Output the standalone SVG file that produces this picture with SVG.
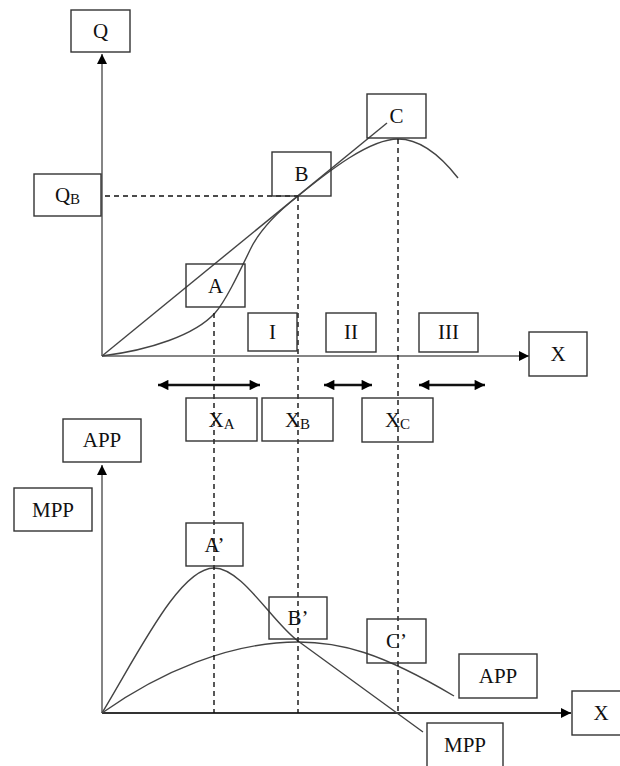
<svg xmlns="http://www.w3.org/2000/svg" width="620" height="766" viewBox="0 0 620 766">
<defs>
<style>
.box{fill:none;stroke:#333;stroke-width:1.4}
.lbl{font-family:"Liberation Serif","Times New Roman",serif;font-size:21px;fill:#111;text-anchor:middle}
.sub{font-size:15px}
.axis{fill:none;stroke:#858585;stroke-width:2}
.axisd{fill:none;stroke:#333;stroke-width:2}
.curve{fill:none;stroke:#444;stroke-width:1.4}
.dash{fill:none;stroke:#111;stroke-width:1.4;stroke-dasharray:5 4}
.range{fill:none;stroke:#111;stroke-width:2.6}
</style>
<marker id="ah" viewBox="0 0 10 10" refX="10" refY="5" markerWidth="5" markerHeight="5" orient="auto" markerUnits="strokeWidth">
<path d="M0,0 L10,5 L0,10 Z" fill="#000"/>
</marker>
<marker id="ah2" viewBox="0 0 10 10" refX="10" refY="5" markerWidth="4.8" markerHeight="4" orient="auto-start-reverse" markerUnits="strokeWidth">
<path d="M0,0 L10,5 L0,10 Z" fill="#000"/>
</marker>
</defs>
<rect width="620" height="766" fill="#fff"/>

<g id="connectors">
<!-- upper axes -->
<path class="axis" d="M102,356 V54" marker-end="url(#ah)"/>
<path class="axis" d="M102,356 H529" marker-end="url(#ah)"/>
<!-- lower axes -->
<path class="axis" d="M102,713 V465" marker-end="url(#ah)"/>
<path class="axisd" d="M102,713 H571" marker-end="url(#ah)"/>
<!-- tangent ray -->
<path class="curve" d="M102,356 L387,123"/>
<!-- total product curve -->
<path class="curve" d="M102,356 C150,350 195,335 215,313 C225,302 238,275 250,250 C258,233 275,214 298,196 C330,170 370,139 398,139 C420,139 440,155 458,178"/>
<!-- APP curve -->
<path class="curve" d="M102,713 C160,672 230,642 298,642 C340,642 380,652 454,696"/>
<!-- MPP curve -->
<path class="curve" d="M102,713 C140,650 180,568 214,568 C242,568 272,622 298,641 L423,732"/>
<!-- dashed guides -->
<path class="dash" d="M105,196 H298"/>
<path class="dash" d="M214,313 V713"/>
<path class="dash" d="M298,196 V713"/>
<path class="dash" d="M398,139 V713"/>
<!-- range arrows -->
<path class="range" d="M158,385 H260" marker-start="url(#ah2)" marker-end="url(#ah2)"/>
<path class="range" d="M324,385 H372" marker-start="url(#ah2)" marker-end="url(#ah2)"/>
<path class="range" d="M419,385 H485" marker-start="url(#ah2)" marker-end="url(#ah2)"/>
</g>

<g id="node-Q"><rect class="box" x="71" y="10" width="59" height="42"/><text class="lbl" x="100.5" y="38">Q</text></g>
<g id="node-QB"><rect class="box" x="34" y="174" width="67" height="42"/><text class="lbl" x="67.5" y="202">Q<tspan class="sub" dy="2">B</tspan></text></g>
<g id="node-B"><rect class="box" x="272" y="152" width="59" height="44"/><text class="lbl" x="301.5" y="181">B</text></g>
<g id="node-C"><rect class="box" x="367" y="94" width="59" height="44"/><text class="lbl" x="396.5" y="123">C</text></g>
<g id="node-A"><rect class="box" x="186" y="264" width="59" height="43"/><text class="lbl" x="215.5" y="293">A</text></g>
<g id="node-I"><rect class="box" x="248" y="313" width="49" height="38"/><text class="lbl" x="272.5" y="339">I</text></g>
<g id="node-II"><rect class="box" x="326" y="313" width="50" height="39"/><text class="lbl" x="351" y="339">II</text></g>
<g id="node-III"><rect class="box" x="419" y="313" width="59" height="39"/><text class="lbl" x="448.5" y="339">III</text></g>
<g id="node-X-top"><rect class="box" x="529" y="332" width="58" height="44"/><text class="lbl" x="558" y="361">X</text></g>
<g id="node-XA"><rect class="box" x="186" y="398" width="71" height="43"/><text class="lbl" x="221.5" y="427">X<tspan class="sub" dy="2">A</tspan></text></g>
<g id="node-XB"><rect class="box" x="262" y="398" width="71" height="43"/><text class="lbl" x="297.5" y="427">X<tspan class="sub" dy="2">B</tspan></text></g>
<g id="node-XC"><rect class="box" x="362" y="398" width="71" height="44"/><text class="lbl" x="397.5" y="427">X<tspan class="sub" dy="2">C</tspan></text></g>
<g id="node-APP-axis"><rect class="box" x="63" y="419" width="78" height="43"/><text class="lbl" x="102" y="447">APP</text></g>
<g id="node-MPP-axis"><rect class="box" x="14" y="488" width="78" height="43"/><text class="lbl" x="53" y="517">MPP</text></g>
<g id="node-A-prime"><rect class="box" x="186" y="523" width="57" height="43"/><text class="lbl" x="214.5" y="552">A’</text></g>
<g id="node-B-prime"><rect class="box" x="269" y="597" width="58" height="42"/><text class="lbl" x="298" y="625">B’</text></g>
<g id="node-C-prime"><rect class="box" x="367" y="619" width="59" height="44"/><text class="lbl" x="396.5" y="648">C’</text></g>
<g id="node-APP-curve"><rect class="box" x="459" y="654" width="78" height="44"/><text class="lbl" x="498" y="683">APP</text></g>
<g id="node-X-bottom"><rect class="box" x="572" y="691" width="58" height="44"/><text class="lbl" x="601" y="720">X</text></g>
<g id="node-MPP-curve"><rect class="box" x="427" y="723" width="76" height="44"/><text class="lbl" x="465" y="752">MPP</text></g>
</svg>
